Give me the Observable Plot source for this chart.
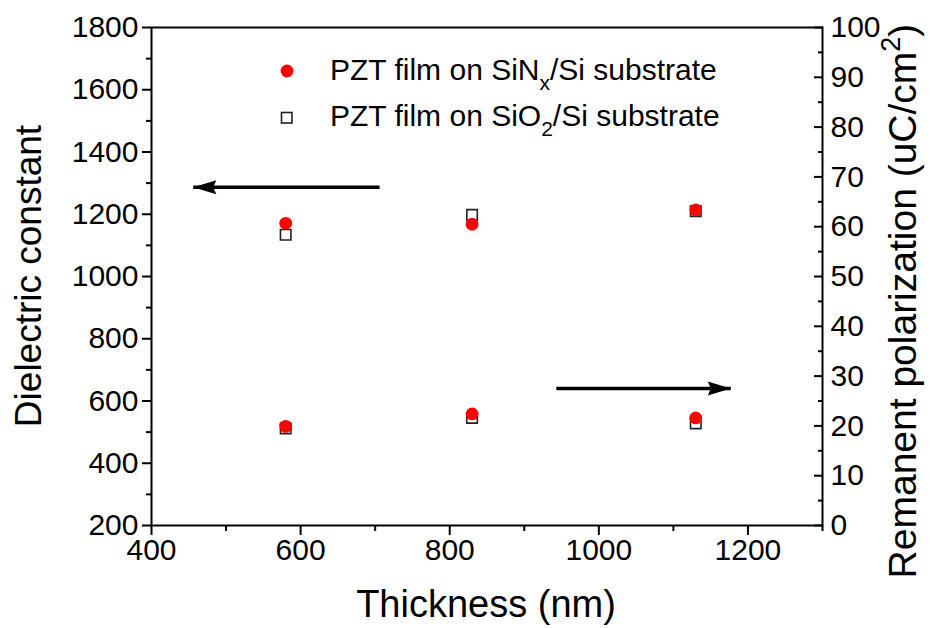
<!DOCTYPE html>
<html><head><meta charset="utf-8">
<script src="https://cdn.jsdelivr.net/npm/d3@7"></script>
<script src="https://cdn.jsdelivr.net/npm/@observablehq/plot@0.6"></script>
<style>
body{margin:0;background:#fff;}
#wrap{position:relative;width:931px;height:628px;font-family:"Liberation Sans",Arial,sans-serif;color:#000;}
.leg{position:absolute;left:0;top:0;font-size:30px;white-space:nowrap;}
.leg .row{position:absolute;left:0;}
.leg sub{font-size:21px;vertical-align:-10px;line-height:0;}
</style></head><body><div id="wrap"></div>
<script>
// ---- data ----
const thickness = [580, 830, 1130];
const dielectricSiNx = [1171, 1168, 1214];
const dielectricSiO2 = [1134, 1198, 1210];
const polarizationSiNx = [19.9, 22.4, 21.6];   // right axis (uC/cm2)
const polarizationSiO2 = [19.5, 21.6, 20.5];
const xTicks = [400, 600, 800, 1000, 1200];
const xMinorTicks = [500, 700, 900, 1100, 1300];
const leftTicks = [200, 400, 600, 800, 1000, 1200, 1400, 1600, 1800];
const leftMinorTicks = [300, 500, 700, 900, 1100, 1300, 1500, 1700];
const rightTicks = [0, 10, 20, 30, 40, 50, 60, 70, 80, 90, 100];
const rightMinorTicks = [5, 15, 25, 35, 45, 55, 65, 75, 85, 95];
const arrowFrom = [706, 943];
const arrowTo = [456, 1177];
const arrowLevel = [1287, 27.5];
const arrowAxis = ["left", "right"];

// right axis (0..100) mapped onto left axis (200..1800)
const toLeft = v => 200 + v * 16;
const fromLeft = v => (v - 200) / 16;

const siNx = thickness.map((t, i) => ({t, y: dielectricSiNx[i]}))
  .concat(thickness.map((t, i) => ({t, y: toLeft(polarizationSiNx[i])})));
const siO2 = thickness.map((t, i) => ({t, y: dielectricSiO2[i]}))
  .concat(thickness.map((t, i) => ({t, y: toLeft(polarizationSiO2[i])})));
const arrows = arrowFrom.map((x1, i) => {
  const y = arrowAxis[i] === "left" ? arrowLevel[i] : toLeft(arrowLevel[i]);
  return {x1, x2: arrowTo[i], y};
});

const headShape = {
  draw(ctx, l) {
    ctx.moveTo(0, -l);
    ctx.lineTo(-7, 0);
    ctx.lineTo(0, -3);
    ctx.lineTo(7, 0);
    ctx.closePath();
  }
};

const tickFont = 30;
const fmt = d => String(d);
const common = {strokeWidth: 2, fontSize: tickFont, label: null};

const chart = Plot.plot({
  width: 931, height: 628,
  marginLeft: 151, marginRight: 109, marginTop: 27, marginBottom: 103,
  style: {fontFamily: "Liberation Sans, Arial, sans-serif", color: "#000", background: "#fff"},
  x: {domain: [400, 1300]},
  y: {domain: [200, 1800]},
  marks: [
    Plot.axisX(xTicks, {...common, tickSize: 10, tickPadding: 3, tickFormat: fmt}),
    Plot.axisX(xMinorTicks, {...common, tickSize: 6, tickFormat: () => ""}),
    Plot.axisY(leftTicks, {...common, tickSize: 9, tickPadding: 4, tickFormat: fmt}),
    Plot.axisY(leftMinorTicks, {...common, tickSize: 5, tickFormat: () => ""}),
    Plot.axisY(rightTicks.map(toLeft), {...common, anchor: "right", tickSize: -9, tickPadding: 17, tickFormat: d => String(fromLeft(d))}),
    Plot.axisY(rightMinorTicks.map(toLeft), {...common, anchor: "right", tickSize: -5, tickFormat: () => ""}),
    Plot.frame({strokeWidth: 2}),
    Plot.link(arrows, {x1: "x1", x2: "x2", y1: "y", y2: "y", stroke: "black", strokeWidth: 3.5}),
    Plot.vector(arrows, {x: "x2", y: "y", length: 23, anchor: "end", rotate: d => d.x2 < d.x1 ? -90 : 90, shape: headShape, fill: "black", stroke: "none"}),
    Plot.dot(siO2, {x: "t", y: "y", symbol: "square", r: 5.9, stroke: "#222", fill: "white", strokeWidth: 1.6}),
    Plot.dot(siNx, {x: "t", y: "y", r: 6.4, fill: "#ff0000", stroke: "none"})
  ]
});

const wrap = document.getElementById("wrap");
wrap.appendChild(chart);

// axis titles
const svg = d3.select(chart);
svg.append("text").attr("transform", "translate(41,276) rotate(-90)")
  .attr("text-anchor", "middle").attr("font-size", 37).attr("fill", "#000")
  .text("Dielectric constant");
svg.append("text").attr("x", 486).attr("y", 617)
  .attr("text-anchor", "middle").attr("font-size", 38).attr("fill", "#000")
  .text("Thickness (nm)");
const rt = svg.append("text").attr("transform", "translate(916,301) rotate(-90)")
  .attr("text-anchor", "middle").attr("font-size", 39).attr("fill", "#000");
rt.append("tspan").text("Remanent polarization (uC/cm");
rt.append("tspan").attr("font-size", 27).attr("dy", -16).text("2");
rt.append("tspan").attr("dy", 16).text(")");

// legend
const leg = document.createElement("div");
leg.className = "leg";
leg.innerHTML = `
<div class="row" style="top:53px;left:280px;"><svg width="14" height="14" style="position:absolute;left:0;top:11px"><circle cx="7" cy="7" r="6.4" fill="#ff0000"/></svg></div>
<div class="row" style="top:53px;left:330px;">PZT film on SiN<sub>x</sub>/Si substrate</div>
<div class="row" style="top:99px;left:280px;"><svg width="14" height="14" style="position:absolute;left:0;top:12px"><rect x="1.5" y="1.5" width="10.5" height="10.5" fill="white" stroke="#222" stroke-width="1.6"/></svg></div>
<div class="row" style="top:99px;left:330px;">PZT film on SiO<sub>2</sub>/Si substrate</div>`;
wrap.appendChild(leg);
</script>
</body></html>
